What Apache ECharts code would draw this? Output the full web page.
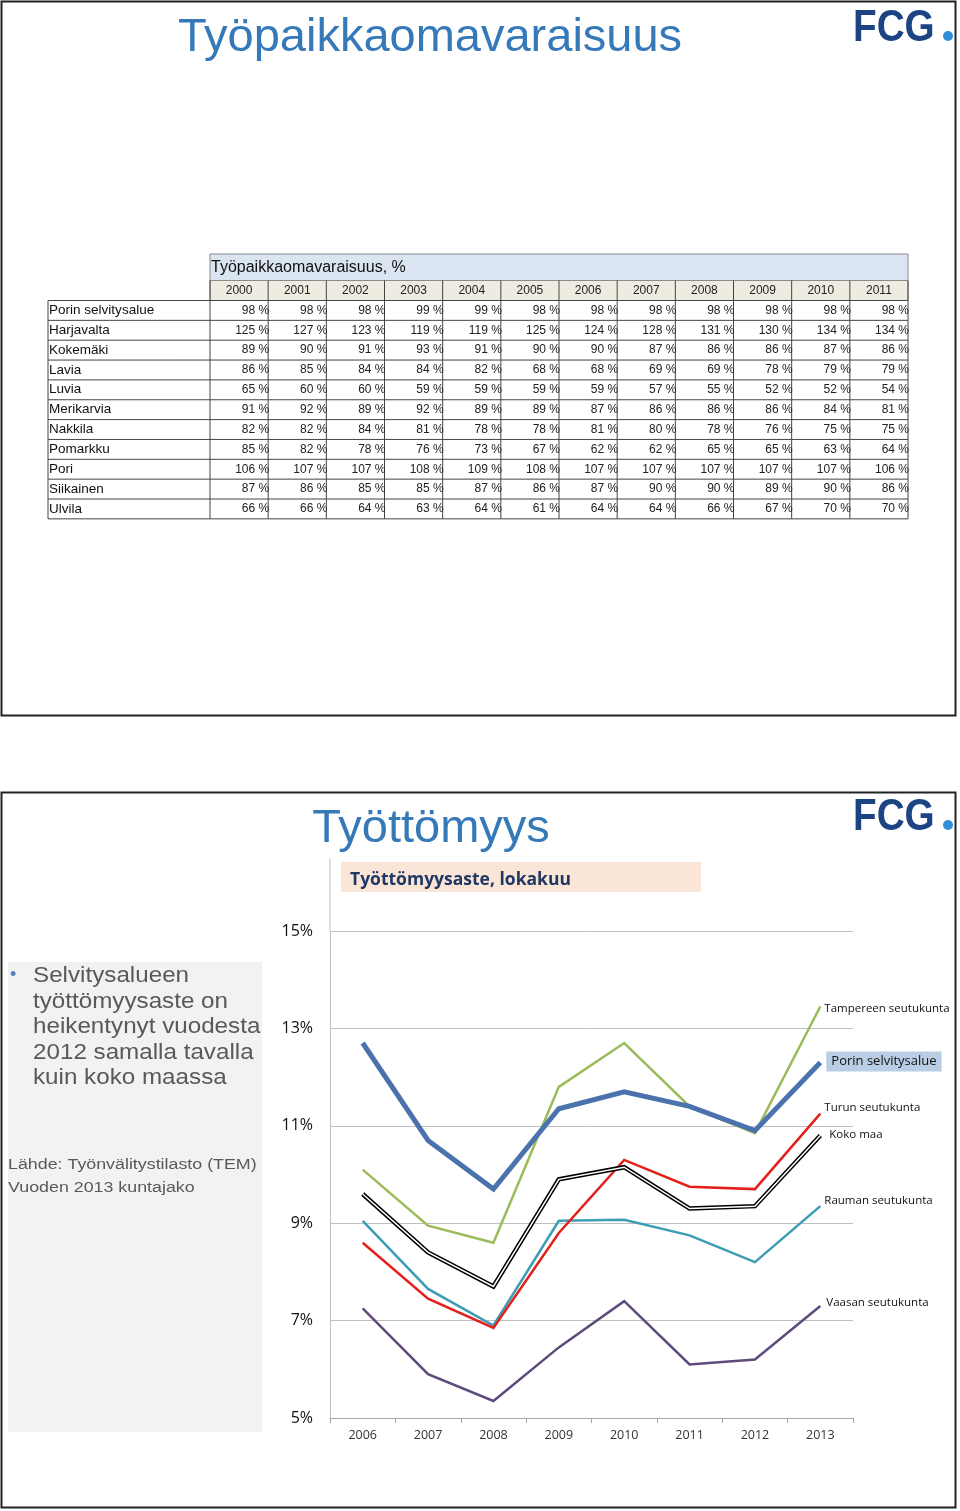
<!DOCTYPE html>
<html><head><meta charset="utf-8">
<script src="https://cdn.jsdelivr.net/npm/echarts@6/dist/echarts.min.js"></script>
<style>html,body{margin:0;padding:0;background:#fff}#c{width:960px;height:1511px}</style>
</head><body><div id="c"></div><script>
// ---- Table data (Työpaikkaomavaraisuus, %) ----
const tableTitle = 'Työpaikkaomavaraisuus, %';
const tableYears = ['2000','2001','2002','2003','2004','2005','2006','2007','2008','2009','2010','2011'];
const rowNames = ['Porin selvitysalue','Harjavalta','Kokemäki','Lavia','Luvia','Merikarvia','Nakkila','Pomarkku','Pori','Siikainen','Ulvila'];
const porinSelvitysalueRow = [98,98,98,99,99,98,98,98,98,98,98,98];
const harjavaltaRow = [125,127,123,119,119,125,124,128,131,130,134,134];
const kokemakiRow = [89,90,91,93,91,90,90,87,86,86,87,86];
const laviaRow = [86,85,84,84,82,68,68,69,69,78,79,79];
const luviaRow = [65,60,60,59,59,59,59,57,55,52,52,54];
const merikarviaRow = [91,92,89,92,89,89,87,86,86,86,84,81];
const nakkilaRow = [82,82,84,81,78,78,81,80,78,76,75,75];
const pomarkkuRow = [85,82,78,76,73,67,62,62,65,65,63,64];
const poriRow = [106,107,107,108,109,108,107,107,107,107,107,106];
const siikainenRow = [87,86,85,85,87,86,87,90,90,89,90,86];
const ulvilaRow = [66,66,64,63,64,61,64,64,66,67,70,70];
const tableRows = [porinSelvitysalueRow,harjavaltaRow,kokemakiRow,laviaRow,luviaRow,merikarviaRow,nakkilaRow,pomarkkuRow,poriRow,siikainenRow,ulvilaRow];

// ---- Line chart data (Työttömyysaste, lokakuu, %) ----
const chartYears = ['2006','2007','2008','2009','2010','2011','2012','2013'];
const porinSelvitysalue = [12.7,10.7,9.7,11.35,11.7,11.4,10.9,12.3];
const tampereenSeutukunta = [10.1,8.95,8.6,11.8,12.7,11.4,10.85,13.45];
const kokoMaa = [9.6,8.4,7.7,9.9,10.15,9.3,9.35,10.8];
const turunSeutukunta = [8.6,7.45,6.85,8.8,10.3,9.75,9.7,11.25];
const raumanSeutukunta = [9.05,7.65,6.9,9.05,9.07,8.75,8.2,9.35];
const vaasanSeutukunta = [7.25,5.9,5.35,6.45,7.4,6.1,6.2,7.3];

const SANS = '"Liberation Sans", Arial, sans-serif';
const CHART_FONT = '"Open Sans", "Noto Sans", sans-serif';
const g = [];
function txt(x, y, text, o) {
  o = o || {};
  const el = {type:'text', x:x, y:y, z:o.z||10, style:{
    text:text, fill:o.fill||'#111', fontSize:o.size||13, fontFamily:o.family||SANS,
    fontWeight:o.weight||'normal', align:o.align||'left', textAlign:o.align||'left',
    verticalAlign:'middle', textVerticalAlign:'middle'}};
  if (o.scaleX) { el.scaleX = o.scaleX; }
  g.push(el);
}
function line(x1,y1,x2,y2,stroke,w,z){
  g.push({type:'line', z:z||5, shape:{x1:x1,y1:y1,x2:x2,y2:y2}, style:{stroke:stroke, lineWidth:w||1}});
}
function rect(x,y,w,h,fill,stroke,lw,z){
  g.push({type:'rect', z:z||1, shape:{x:x,y:y,width:w,height:h}, style:{fill:fill, stroke:stroke||null, lineWidth:lw||0}});
}
function logo(x,y){
  txt(x, y, 'FCG', {size:45, weight:'bold', fill:'#1c4483', scaleX:0.86});
  g.push({type:'circle', z:10, shape:{cx:x+95, cy:y+7, r:5}, style:{fill:'#2f8fd8'}});
}

// slide frames
rect(1.5,1.5,954,714,null,'#222',2,0);
rect(1.5,792.5,954,715,null,'#222',2,0);

// slide 1
txt(430, 38, 'Työpaikkaomavaraisuus', {size:47, fill:'#3579b9', align:'center'});
logo(853, 29);

// table
const tL = 48, lblR = 210, tR = 908;
const colW = (tR - lblR) / tableYears.length;
const titleTop = 254, headTop = 280.5, rowTop = 300.5, rowH = 19.85;
const tBottom = rowTop + rowH * rowNames.length;
rect(lblR, titleTop, tR-lblR, headTop-titleTop, '#dbe5f1', '#8a8a8a', 1, 1);
rect(lblR, headTop, tR-lblR, rowTop-headTop, '#eeece1', '#8a8a8a', 1, 1);
txt(lblR+1, titleTop+14, tableTitle, {size:16, fill:'#111'});
tableYears.forEach((yr,i)=>{
  txt(lblR + colW*i + colW/2, headTop+10, yr, {size:12, align:'center', fill:'#222'});
});
for (let i=0;i<=tableYears.length;i++){
  const x = lblR + colW*i;
  line(x, headTop, x, tBottom, '#444', 1, 6);
}
line(tL, rowTop, tL, tBottom, '#444', 1, 6);
for (let r=0;r<=rowNames.length;r++){
  const y = rowTop + rowH*r;
  line(tL, y, tR, y, '#444', 1, 6);
}
rowNames.forEach((name,r)=>{
  const cy = rowTop + rowH*r + rowH/2;
  txt(tL+1, cy, name, {size:13, fill:'#111', scaleX:1.04});
  tableRows[r].forEach((v,i)=>{
    txt(lblR + colW*(i+1) + 1, cy, v + ' %', {size:12, align:'right', fill:'#222'});
  });
});

// slide 2
txt(431, 829, 'Työttömyys', {size:47, fill:'#3579b9', align:'center'});
logo(853, 818);
rect(341, 862, 360, 30, '#fbe5d6', null, 0, 1);
txt(350, 880, 'Työttömyysaste, lokakuu', {size:17.5, weight:'bold', fill:'#1f3864', family:CHART_FONT});
line(330, 858, 330, 931, '#bfbfbf', 1, 2);

// left text panel
rect(8, 962, 254, 470, '#f2f2f2', null, 0, 1);
txt(10, 975, '•', {size:18, fill:'#4f81bd'});
const bulletLines = ['Selvitysalueen','työttömyysaste on','heikentynyt vuodesta','2012 samalla tavalla','kuin koko maassa'];
bulletLines.forEach((s,i)=> txt(33, 976 + i*25.5, s, {size:22, fill:'#595959', scaleX:1.1}));
txt(8, 1165, 'Lähde: Työnvälitystilasto (TEM)', {size:15.5, fill:'#595959', scaleX:1.15});
txt(8, 1188, 'Vuoden 2013 kuntajako', {size:15.5, fill:'#595959', scaleX:1.15});

function lineSeries(name, data, color, width, label, z){
  return {
    name:name, type:'line', data:data, symbol:'none', z:z||2, animation:false,
    lineStyle:{color:color, width:width, join:'miter'},
    endLabel: label ? Object.assign({show:true, formatter:name, fontFamily:CHART_FONT, fontSize:11.5, color:'#111', distance:4}, label) : {show:false},
    emphasis:{disabled:true}
  };
}

const chart = echarts.init(document.getElementById('c'), null, {renderer:'canvas'});
chart.setOption({
  animation:false,
  backgroundColor:'#fff',
  graphic:{elements:g},
  grid:{left:330, right:107, top:931, height:487, containLabel:false},
  xAxis:{type:'category', data:chartYears, boundaryGap:true, z:3,
    axisLine:{lineStyle:{color:'#a6a6a6'}}, axisTick:{show:true, length:5, lineStyle:{color:'#a6a6a6'}},
    axisLabel:{fontFamily:CHART_FONT, fontSize:12.5, color:'#333', margin:11}},
  yAxis:{type:'value', min:5, max:15, interval:2, z:1,
    axisLine:{show:true, lineStyle:{color:'#bfbfbf'}}, axisTick:{show:false},
    splitLine:{lineStyle:{color:'#bfbfbf', width:1}},
    axisLabel:{formatter:'{value}%', fontFamily:CHART_FONT, fontSize:16, color:'#111', margin:17}},
  series:[
    lineSeries('Vaasan seutukunta', vaasanSeutukunta, '#5f4a7d', 2.5, {offset:[2,-3]}, 2),
    lineSeries('Rauman seutukunta', raumanSeutukunta, '#3d9db3', 2.5, {offset:[0,-5]}, 2),
    lineSeries('Turun seutukunta', turunSeutukunta, '#e3201b', 2.5, {offset:[0,-6]}, 3),
    lineSeries('Koko maa', kokoMaa, '#000', 4.5, {offset:[5,-1]}, 4),
    lineSeries('Koko maa ', kokoMaa, '#fff', 1.5, null, 5),
    lineSeries('Tampereen seutukunta', tampereenSeutukunta, '#9bbb59', 2.5, {offset:[0,2]}, 6),
    lineSeries('Porin selvitysalue', porinSelvitysalue, '#4a72ac', 5, {offset:[2,-1], fontSize:13, backgroundColor:'#b9cde5', padding:[4,5,3,5]}, 7)
  ]
});
</script></body></html>
